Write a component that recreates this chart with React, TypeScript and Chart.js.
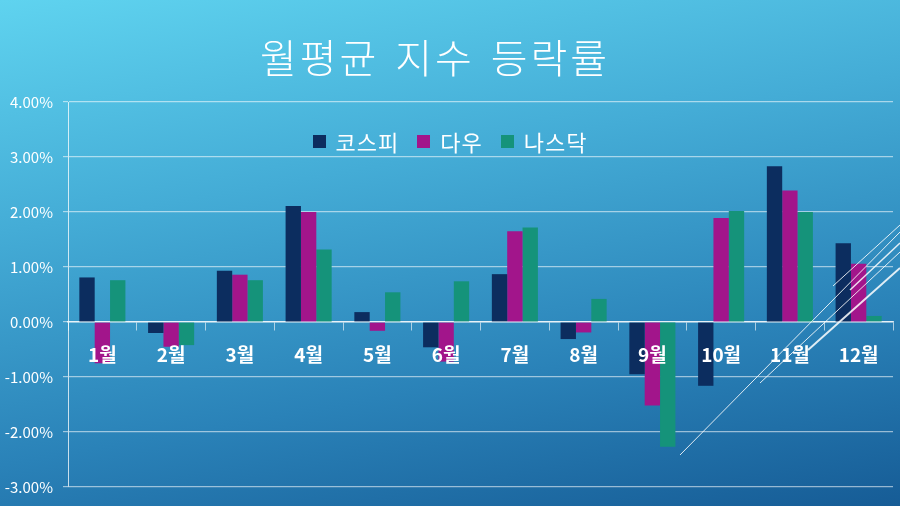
import React, { useEffect, useRef } from 'react';
import Chart from 'chart.js/auto';

const months = ['1월', '2월', '3월', '4월', '5월', '6월', '7월', '8월', '9월', '10월', '11월', '12월'];
const seriesNames = ['코스피', '다우', '나스닥'];
const seriesColors = ['#0c2d5f', '#a2158b', '#15937a'];
const kospi = [0.81, -0.2, 0.93, 2.11, 0.18, -0.46, 0.87, -0.31, -0.95, -1.16, 2.83, 1.43];
const dow = [-0.75, -0.45, 0.86, 2.0, -0.16, -0.72, 1.65, -0.19, -1.52, 1.89, 2.39, 1.06];
const nasdaq = [0.76, -0.42, 0.76, 1.32, 0.54, 0.74, 1.72, 0.42, -2.27, 2.02, 2.0, 0.11];

const KR = '"Noto Sans CJK KR", "Noto Sans", sans-serif';

// thin white diagonal strokes in the bottom-right corner (slide decoration)
const decoPlugin = {
  id: 'deco',
  afterDraw(chart: Chart) {
    const { ctx } = chart;
    ctx.save();
    ctx.strokeStyle = 'rgba(255,255,255,0.85)';
    const lines: [number, number, number, number, number][] = [
      [680, 455, 900, 232, 1],
      [760, 383, 900, 252, 1],
      [808, 350, 900, 268, 2],
      [833, 286, 900, 225, 1],
      [850, 290, 900, 243, 1.5],
    ];
    lines.forEach(([x1, y1, x2, y2, w]) => {
      ctx.lineWidth = w;
      ctx.beginPath();
      ctx.moveTo(x1, y1);
      ctx.lineTo(x2, y2);
      ctx.stroke();
    });
    ctx.restore();
  },
};

const App: React.FC = () => {
  const chartRef = useRef<HTMLCanvasElement>(null);
  const chartInstance = useRef<Chart | null>(null);

  useEffect(() => {
    if (!chartRef.current) return;
    if (chartInstance.current) chartInstance.current.destroy();

    const data = [kospi, dow, nasdaq];
    chartInstance.current = new Chart(chartRef.current, {
      type: 'bar',
      data: {
        labels: months,
        datasets: seriesNames.map((name, i) => ({
          label: name,
          data: data[i],
          backgroundColor: seriesColors[i],
          borderWidth: 0,
          barPercentage: 1,
          categoryPercentage: 0.67,
        })),
      },
      options: {
        animation: false,
        responsive: false,
        maintainAspectRatio: false,
        layout: { padding: { top: 102, bottom: 18, left: 0, right: 7 } },
        plugins: {
          legend: { display: false },
          title: { display: false },
          tooltip: { enabled: false },
        },
        scales: {
          x: {
            position: { y: 0 },
            grid: {
              display: true,
              drawOnChartArea: false,
              tickLength: 8,
              color: 'rgba(255,255,255,0.6)',
            },
            border: { display: true, color: 'rgba(255,255,255,0.75)', width: 1.5 },
            ticks: {
              z: 1, // month labels sit on top of the bars
              color: '#ffffff',
              padding: 13,
              font: { family: KR, size: 19, weight: 'bold' },
            },
          },
          y: {
            min: -3,
            max: 4,
            afterFit: (scale: any) => {
              scale.width = 68;
            },
            grid: {
              color: 'rgba(255,255,255,0.55)',
              lineWidth: 1.2,
              tickLength: 5,
            },
            border: { display: true, color: 'rgba(255,255,255,0.75)', width: 1 },
            ticks: {
              stepSize: 1,
              color: '#ffffff',
              padding: 10,
              font: { family: KR, size: 15 },
              callback: (v: any) => Number(v).toFixed(2) + '%',
            },
          },
        },
      },
      plugins: [decoPlugin],
    });

    return () => {
      if (chartInstance.current) {
        chartInstance.current.destroy();
        chartInstance.current = null;
      }
    };
  }, []);

  return (
    <div
      style={{
        position: 'fixed',
        left: 0,
        top: 0,
        width: 900,
        height: 506,
        overflow: 'hidden',
        background: 'linear-gradient(170deg, #5fd3ef 0%, #44acd6 35%, #2a82b8 70%, #165c96 100%)',
        fontFamily: KR,
      }}
    >
      <canvas ref={chartRef} width={900} height={506} style={{ position: 'absolute', left: 0, top: 0 }}></canvas>
      {/* Title */}
      <div
        style={{
          position: 'absolute',
          left: 0,
          width: 870,
          top: 30,
          textAlign: 'center',
          color: '#ffffff',
          fontSize: 40,
          fontWeight: 300,
          letterSpacing: 3,
          wordSpacing: 4,
          lineHeight: '52px',
        }}
      >
        월평균 지수 등락률
      </div>
      {/* Legend */}
      <div
        style={{
          position: 'absolute',
          left: 0,
          width: 900,
          top: 126,
          display: 'flex',
          justifyContent: 'center',
          gap: 18,
          color: '#ffffff',
          fontSize: 22,
          lineHeight: '30px',
        }}
      >
        {seriesNames.map((name, i) => (
          <div key={name} style={{ display: 'flex', alignItems: 'center', gap: 10 }}>
            <span style={{ width: 13, height: 13, background: seriesColors[i], display: 'inline-block' }}></span>
            <span style={{ letterSpacing: 1 }}>{name}</span>
          </div>
        ))}
      </div>
    </div>
  );
};

export default App;
